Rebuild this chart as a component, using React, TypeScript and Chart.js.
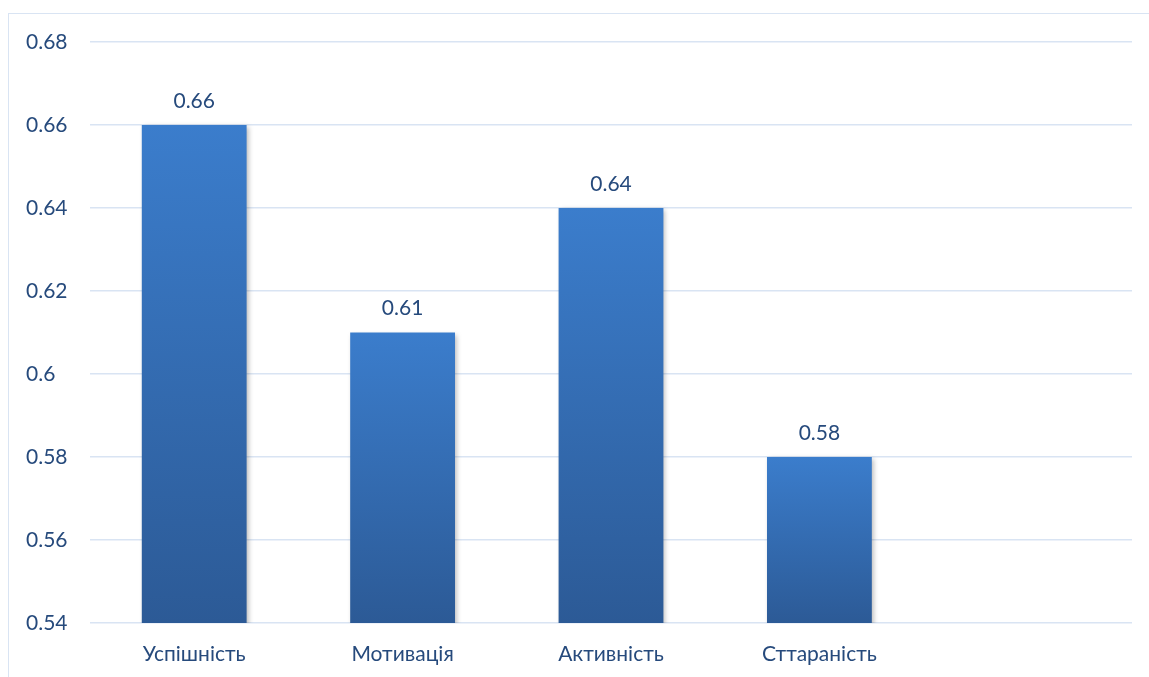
import React, { useEffect, useRef } from "react";
import { Chart, registerables } from "chart.js";

Chart.register(...registerables);

const categories = ["Успішність", "Мотивація", "Активність", "Сттараність", ""];
const values = [0.66, 0.61, 0.64, 0.58, null];
const yMin = 0.54;
const yMax = 0.68;
const yStep = 0.02;

const FONT = "Lato, 'Open Sans', 'Noto Sans', sans-serif";
const TEXT = "#264a7c";
const GRID = "#d9e4f3";

const shadowPlugin = {
  id: "barShadow",
  beforeDatasetsDraw(chart: any) {
    const c = chart.ctx;
    c.save();
    c.shadowColor = "rgba(0,0,0,0.28)";
    c.shadowBlur = 5;
    c.shadowOffsetX = 2;
    c.shadowOffsetY = 2;
  },
  afterDatasetsDraw(chart: any) {
    chart.ctx.restore();
  },
};

const labelPlugin = {
  id: "valueLabels",
  afterDatasetsDraw(chart: any) {
    const c = chart.ctx;
    const meta = chart.getDatasetMeta(0);
    c.save();
    c.font = `21px ${FONT}`;
    c.fillStyle = TEXT;
    c.textAlign = "center";
    c.textBaseline = "middle";
    meta.data.forEach((el: any, i: number) => {
      const v = values[i];
      if (v == null) return;
      c.fillText(String(v), el.x, el.y - 24);
    });
    c.restore();
  },
};

export default function App() {
  const ref = useRef<HTMLCanvasElement | null>(null);
  useEffect(() => {
    if (!ref.current) return;
    const chart = new Chart(ref.current, {
      type: "bar",
      data: {
        labels: categories,
        datasets: [
          {
            data: values as any,
            barPercentage: 0.503,
            categoryPercentage: 1,
            backgroundColor: (ctx: any) => {
              const ch = ctx.chart;
              const ys = ch.scales && ch.scales.y;
              const v = ctx.raw;
              if (!ys || v == null) return "#3a7bc8";
              const top = ys.getPixelForValue(v);
              const bottom = ys.getPixelForValue(yMin);
              if (!isFinite(top) || !isFinite(bottom) || bottom - top < 1) return "#3a7bc8";
              const g = ch.ctx.createLinearGradient(0, top, 0, bottom);
              g.addColorStop(0, "#3b7dcc");
              g.addColorStop(1, "#2c5a96");
              return g;
            },
            borderWidth: 0,
          },
        ],
      },
      options: {
        animation: false,
        responsive: false,
        maintainAspectRatio: false,
        layout: { padding: { left: 18, right: 17, top: 34, bottom: 0 } },
        plugins: { legend: { display: false }, tooltip: { enabled: false } },
        scales: {
          x: {
            grid: { display: false, drawTicks: false },
            border: { display: false },
            ticks: { color: TEXT, font: { family: FONT, size: 21 }, padding: 19 },
            afterFit: (s: any) => {
              s.height = 54;
            },
          },
          y: {
            min: yMin,
            max: yMax,
            grid: { color: GRID, lineWidth: 1.5, drawTicks: false },
            border: { display: false },
            ticks: {
              stepSize: yStep,
              crossAlign: "far",
              color: TEXT,
              font: { family: FONT, size: 21 },
              callback: (v: any) => String(parseFloat(Number(v).toFixed(2))),
            },
            afterFit: (s: any) => {
              s.width = 64;
            },
          },
        },
      },
      plugins: [shadowPlugin, labelPlugin],
    });
    return () => chart.destroy();
  }, []);
  return (
    <div style={{ position: "relative", width: 1141, height: 669 }}>
      <div
        style={{
          position: "fixed",
          top: 13,
          left: 8,
          right: 0,
          bottom: 0,
          borderTop: `1.5px solid ${GRID}`,
          borderLeft: `1.5px solid ${GRID}`,
          pointerEvents: "none",
        }}
      />
      <canvas
        ref={ref}
        width={1141}
        height={669}
        style={{ position: "absolute", top: 0, left: 0, width: 1141, height: 669 }}
      />
    </div>
  );
}
